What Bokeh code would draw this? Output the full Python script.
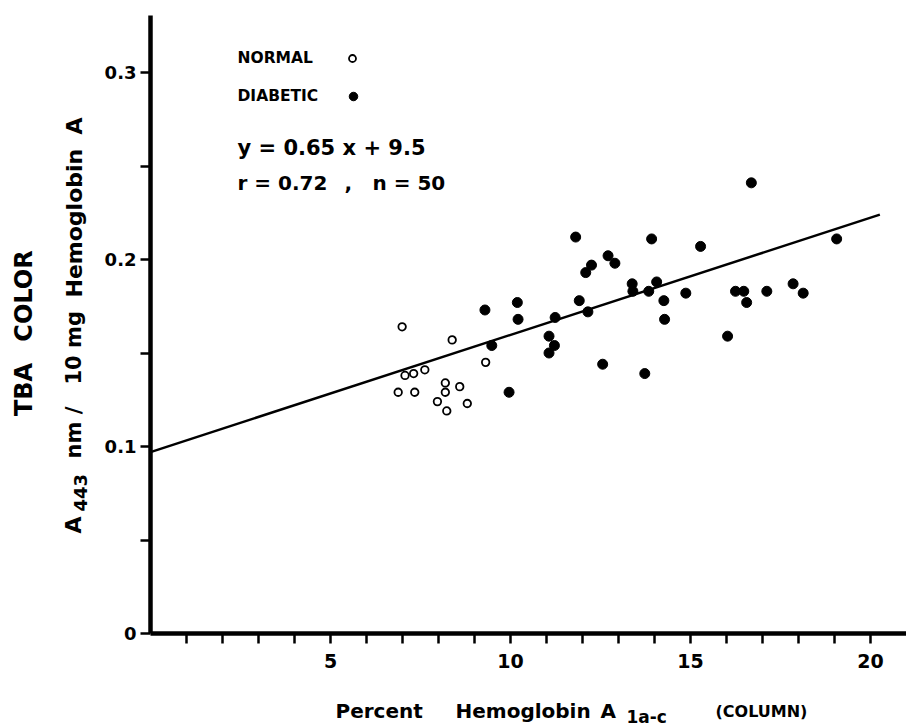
import math
from bokeh.plotting import figure
from bokeh.models import Range1d, FixedTicker, CustomJSTickFormatter, Label
from bokeh.embed import file_html
from bokeh.resources import INLINE

# ---------------- data ----------------
normal_x = [6.99, 8.38, 7.62, 7.31, 7.07, 6.88, 7.34, 8.19, 8.19, 8.59, 7.97, 8.23, 8.80, 9.31]
normal_y = [0.164, 0.157, 0.141, 0.139, 0.138, 0.129, 0.129, 0.134, 0.129, 0.132, 0.124, 0.119, 0.123, 0.145]

diabetic_x = [9.29, 9.48, 9.96, 10.19, 10.21, 11.07, 11.22, 11.07, 11.24, 11.81,
              11.91, 12.09, 12.25, 12.15, 12.56, 12.71, 12.90, 13.38, 13.40, 13.73,
              13.84, 13.92, 14.06, 14.26, 14.28, 14.87, 15.28, 16.03, 16.25, 16.48,
              16.56, 16.69, 17.12, 17.85, 18.13, 19.06]
diabetic_y = [0.173, 0.154, 0.129, 0.177, 0.168, 0.159, 0.154, 0.150, 0.169, 0.212,
              0.178, 0.193, 0.197, 0.172, 0.144, 0.202, 0.198, 0.187, 0.183, 0.139,
              0.183, 0.211, 0.188, 0.178, 0.168, 0.182, 0.207, 0.159, 0.183, 0.183,
              0.177, 0.241, 0.183, 0.187, 0.182, 0.211]

fit_x = [0.0, 20.26]
fit_y = [0.097, 0.224]

x_ticks = list(range(1, 21))
y_ticks = [0.0, 0.05, 0.1, 0.15, 0.2, 0.25, 0.3]

legend_labels = ["NORMAL", "DIABETIC"]
equation_text = "y = 0.65 x + 9.5"
stats_r = "r = 0.72"
stats_n = "n = 50"

# ---------------- layout helpers (canvas pixel -> data) ----------------
W, H = 906, 727
X0, SX = 150.0, 36.0      # canvas x of x=0, pixels per unit
Y0, SY = 633.0, 1870.0    # canvas y of y=0, pixels per unit

def ux(px):
    return (px - X0) / SX

def uy(py):
    return (Y0 - py) / SY

FONT = "DejaVu Sans"

p = figure(width=W, height=H,
           x_range=Range1d(ux(0), ux(W)), y_range=Range1d(uy(H), uy(0)),
           output_backend="svg", toolbar_location=None,
           min_border=0, min_border_left=0, min_border_right=0,
           min_border_top=0, min_border_bottom=0)
p.outline_line_color = None
p.xgrid.visible = False
p.ygrid.visible = False
p.background_fill_color = "white"
p.border_fill_color = "white"

xa = p.xaxis[0]
ya = p.yaxis[0]
xa.fixed_location = 0
ya.fixed_location = 0
xa.bounds = (0, ux(W))
ya.bounds = (0, uy(15))

for ax in (xa, ya):
    ax.axis_line_width = 4.5
    ax.axis_line_color = "black"
    ax.major_tick_line_width = 2.5
    ax.major_tick_line_color = "black"
    ax.major_tick_in = 0
    ax.major_tick_out = 10
    ax.minor_tick_line_color = None
    ax.major_label_text_font = FONT
    ax.major_label_text_font_style = "bold"
    ax.major_label_text_color = "black"

xa.ticker = FixedTicker(ticks=x_ticks)
xa.formatter = CustomJSTickFormatter(code="""
    const t = Math.round(tick);
    return (t % 5 === 0 && t !== 0) ? t.toString() : "";
""")
xa.major_label_text_font_size = "19px"
xa.major_label_standoff = 10

ya.ticker = FixedTicker(ticks=y_ticks)
ya.formatter = CustomJSTickFormatter(code="""
    const t = Math.round(tick * 100);
    if (t % 10 !== 0) return "";
    return t === 0 ? "0" : (t / 100).toFixed(1);
""")
ya.major_label_text_font_size = "18px"
ya.major_label_standoff = 4

# regression line
p.line(fit_x, fit_y, line_color="black", line_width=2.5)

# points
p.scatter(normal_x, normal_y, marker="circle", size=7.5, fill_color="white",
          line_color="black", line_width=1.8)
p.scatter(diabetic_x, diabetic_y, marker="circle", size=10, fill_color="black",
          line_color="black", line_width=1)

# legend keys
p.scatter([ux(352)], [uy(58)], marker="circle", size=7, fill_color="white",
          line_color="black", line_width=1.8)
p.scatter([ux(353)], [uy(96)], marker="circle", size=8.5, fill_color="black",
          line_color="black", line_width=1)

def add_label(text, px, py, size, angle=0.0, align="left"):
    p.add_layout(Label(x=ux(px), y=uy(py), text=text, angle=angle,
                       text_font=FONT, text_font_style="bold",
                       text_font_size=size, text_color="black",
                       text_align=align, text_baseline="middle"))

# legend texts
add_label(legend_labels[0], 237, 57.5, "15.5px")
add_label(legend_labels[1], 237, 95.5, "15.5px")

# equation & stats
add_label(equation_text, 237, 147, "21px")
add_label(stats_r, 237, 182.5, "20px")
add_label(",", 344, 182.5, "20px")
add_label(stats_n, 372, 182.5, "20px")

# y-axis titles (rotated)
rot = math.pi / 2
add_label("TBA", 23.5, 389, "24px", angle=rot, align="center")
add_label("COLOR", 23.5, 295.5, "24px", angle=rot, align="center")
add_label("A", 72.5, 533, "22px", angle=rot)
add_label("443", 80, 511, "18px", angle=rot)
add_label("nm /", 73, 458, "21px", angle=rot)
add_label("10 mg", 73, 384, "21px", angle=rot)
add_label("Hemoglobin", 73.5, 297, "22px", angle=rot)
add_label("A", 73.5, 134, "22px", angle=rot)

# x-axis title
add_label("Percent", 335, 710.5, "20px")
add_label("Hemoglobin", 455, 710.5, "20px")
add_label("A", 600, 710.5, "20px")
add_label("1a-c", 626, 716, "17px")
add_label("(COLUMN)", 715, 711, "16px")

open("out.html", "w").write(file_html(p, INLINE))
